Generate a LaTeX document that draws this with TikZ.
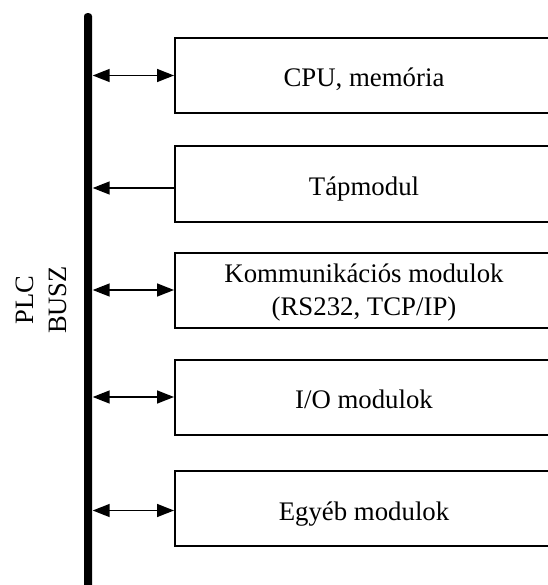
\documentclass[tikz,border=0pt]{standalone}
\usepackage{fontspec}
\setmainfont{Liberation Serif}
\usetikzlibrary{positioning,arrows.meta}

\begin{document}
\begin{tikzpicture}[
  x=1pt,y=-1pt,
  >={Triangle[length=17pt,width=13pt]},
  modul/.style={draw=black,line width=2pt,anchor=west,minimum width=378pt,minimum height=75pt,inner sep=0pt,align=center,text height=23pt,text depth=0pt,font=\fontsize{26.8}{33}\selectfont},
  bus/.style={fill=black,draw=none,rounded corners=3pt,minimum width=8pt,minimum height=590pt,inner sep=0pt,anchor=north},
  ar/.style={<->,line width=1.5pt,shorten <=0.5pt},
  busl/.style={font=\fontsize{26.5}{33}\selectfont,rotate=90,align=center}
]
\useasboundingbox (0,0) rectangle (547,585);

% the bus bar and its label
\node[bus] (bus) at (88,13) {};
\node[busl] (buslab) at (41,300) {PLC\\BUSZ};

% modules, top to bottom
\node[modul] (cpu)  at (174,75.5) {CPU, memória};
\node[modul] (tap)  at (174,184)  {Tápmodul};
\node[modul,text height=,text depth=] (komm) at (174,290) {\rule{0pt}{24pt}Kommunikációs modulok\\(RS232, TCP/IP)};
\node[modul] (io)   at (174,397)  {I/O modulok};
\node[modul] (egyeb) at (174,508.5) {Egyéb modulok};

% links to the bus
\draw[ar] (bus.east |- cpu.west) -- (cpu.west);
\draw[ar,<-] ([yshift=-4pt]bus.east |- tap.west) -- ([yshift=-4pt]tap.west);
\draw[ar] (bus.east |- komm.west) -- (komm.west);
\draw[ar] (bus.east |- io.west) -- (io.west);
\draw[ar] ([yshift=-2pt]bus.east |- egyeb.west) -- ([yshift=-2pt]egyeb.west);

\end{tikzpicture}
\end{document}
